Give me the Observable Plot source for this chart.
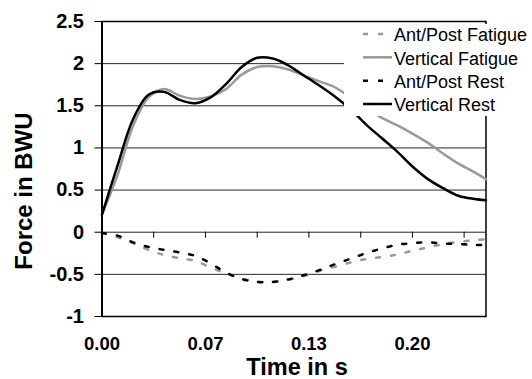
<!DOCTYPE html>
<html><head><meta charset="utf-8">
<script src="https://cdn.jsdelivr.net/npm/d3@7"></script>
<script src="https://cdn.jsdelivr.net/npm/@observablehq/plot@0.6"></script>
<style>
body{margin:0;background:#fff;}
#wrap{position:relative;width:532px;height:379px;font-family:"Liberation Sans",Arial,sans-serif;}
#wrap svg [aria-label$="tick label"]{font-weight:bold;}
#legend{position:absolute;left:344px;top:24px;width:188px;height:92px;background:#fff;}
</style></head><body><div id="wrap"><div id="legend"></div></div>
<script>
const time = [0,0.01,0.02,0.03,0.04,0.05,0.06,0.07,0.08,0.09,0.10,0.11,0.12,0.13,0.14,0.15,0.16,0.17,0.18,0.19,0.20,0.21,0.22,0.23,0.24,0.2474];
const antPostFatigue = [-0.01,-0.06,-0.13,-0.21,-0.27,-0.31,-0.34,-0.42,-0.49,-0.55,-0.585,-0.59,-0.565,-0.52,-0.46,-0.41,-0.36,-0.32,-0.295,-0.265,-0.22,-0.18,-0.14,-0.115,-0.095,-0.085];
const verticalFatigue = [0.21,0.68,1.26,1.60,1.70,1.62,1.58,1.61,1.70,1.87,1.96,1.97,1.93,1.86,1.79,1.72,1.60,1.47,1.36,1.27,1.17,1.06,0.93,0.81,0.71,0.63];
const antPostRest = [-0.01,-0.04,-0.12,-0.175,-0.21,-0.24,-0.28,-0.37,-0.48,-0.555,-0.59,-0.59,-0.56,-0.51,-0.45,-0.38,-0.315,-0.25,-0.195,-0.15,-0.13,-0.12,-0.135,-0.14,-0.15,-0.15];
const verticalRest = [0.21,0.79,1.34,1.63,1.665,1.57,1.53,1.60,1.76,1.96,2.07,2.06,1.98,1.86,1.74,1.61,1.46,1.28,1.12,0.96,0.78,0.63,0.52,0.43,0.395,0.38];

const seriesNames = ["Ant/Post Fatigue","Vertical Fatigue","Ant/Post Rest","Vertical Rest"];
const seriesValues = [antPostFatigue, verticalFatigue, antPostRest, verticalRest];
const seriesColors = ["#999999","#999999","#000000","#000000"];
const seriesDash = ["4,11", null, "4,11", null];

const yTicks = [-1,-0.5,0,0.5,1,1.5,2,2.5];
const xTicks = [0,0.0333,0.0667,0.1,0.1333,0.1667,0.2,0.2333];
const xLabels = [0,0.0667,0.1333,0.2];
const xTitle = "Time in s";
const yTitle = "Force in BWU";

const lineMarks = seriesNames.map((name, s) => {
  const rows = time.map((t, i) => ({t, v: seriesValues[s][i]}));
  return Plot.line(rows, {x: "t", y: "v", stroke: seriesColors[s], strokeWidth: 2.5,
    strokeDasharray: seriesDash[s] || undefined, curve: "catmull-rom"});
});

const chart = Plot.plot({
  width: 532, height: 379,
  marginLeft: 101.5, marginRight: 46.5, marginTop: 21, marginBottom: 63,
  style: {fontFamily: '"Liberation Sans", Arial, sans-serif', background: "#fff", color: "#000"},
  x: {domain: [0, 0.2474]},
  y: {domain: [-1, 2.5]},
  marks: [
    Plot.gridY(yTicks, {stroke: "#000", strokeOpacity: 0.85, strokeWidth: 1}),
    Plot.ruleX(xTicks, {y1: 0, y2: 0, insetBottom: -6, stroke: "#000", strokeWidth: 1}),
    Plot.frame({stroke: "#000", strokeWidth: 1.5}),
    ...lineMarks,
    Plot.ruleX([0], {stroke: "#000", strokeWidth: 2}),
    Plot.axisY(yTicks, {tickSize: 7, tickPadding: 11, tickFormat: d => String(d), fontSize: 20, fontWeight: "bold", label: null}),
    Plot.axisX(xLabels, {tickSize: 0, tickPadding: 20, tickFormat: d => d.toFixed(2), fontSize: 18.5, fontWeight: "bold", label: null}),
    Plot.text([xTitle], {text: d => d, frameAnchor: "bottom", lineAnchor: "middle", textAnchor: "middle", dx: 3, dy: 50.5, fontSize: 23.5, fontWeight: "bold"}),
    Plot.text([yTitle], {text: d => d, frameAnchor: "left", lineAnchor: "middle", textAnchor: "middle", rotate: -90, dx: -78, dy: 22, fontSize: 24, fontWeight: "bold"})
  ]
});
document.getElementById("wrap").prepend(chart);

// legend overlay
const leg = d3.select("#legend").append("svg").attr("width", 188).attr("height", 92)
  .style("font-family", '"Liberation Sans", Arial, sans-serif');
const rowY = [11, 34.3, 57.7, 81];
seriesNames.forEach((name, s) => {
  const g = leg.append("g").attr("transform", `translate(0,${rowY[s]})`);
  g.append("line").attr("x1", 19).attr("x2", 48).attr("y1", -1).attr("y2", -1)
    .attr("stroke", seriesColors[s]).attr("stroke-width", 2.5)
    .attr("stroke-dasharray", seriesDash[s] ? "5,10" : null);
  g.append("text").attr("x", 50).attr("y", 0).attr("dy", "0.35em")
    .attr("font-size", 18).attr("fill", "#000").text(name);
});
</script></body></html>
